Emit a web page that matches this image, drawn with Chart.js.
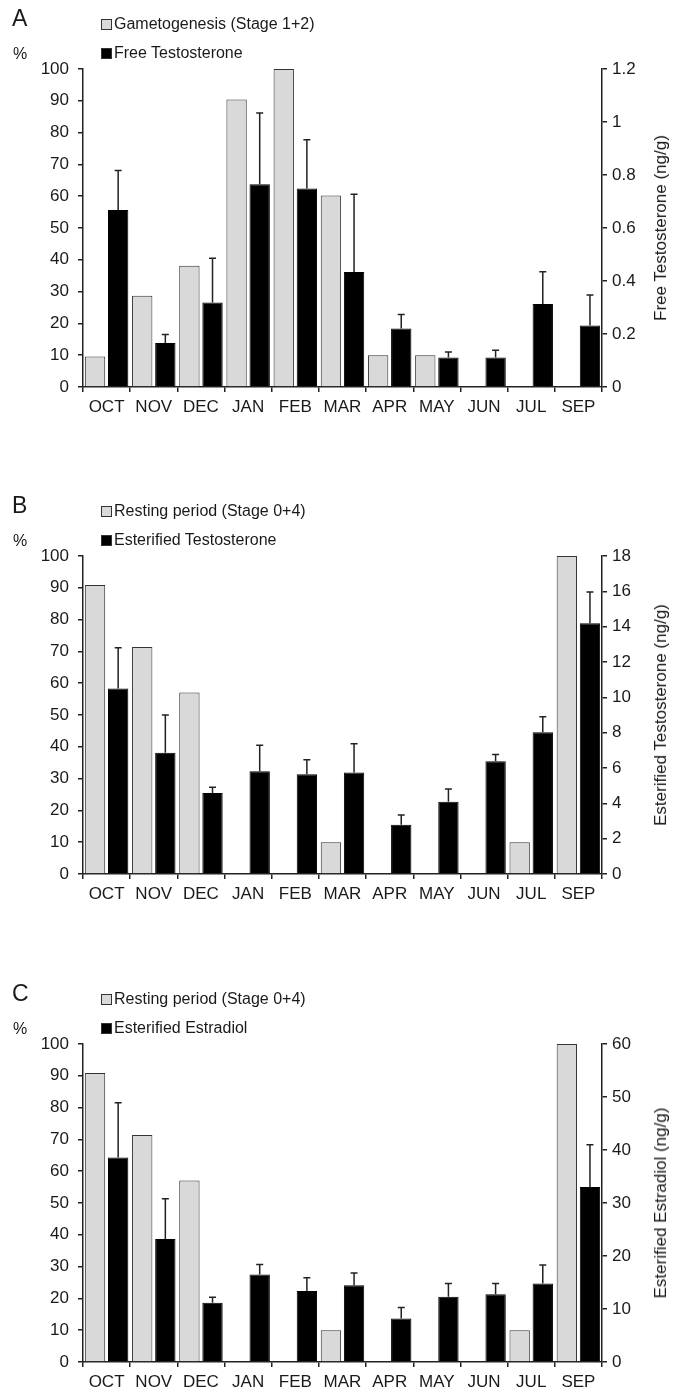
<!DOCTYPE html>
<html lang="en">
  <head>
    <meta charset="UTF-8" />
    <title>Gonad stages and steroid levels by month</title>
    <script src="https://cdn.jsdelivr.net/npm/chart.js"></script>
    <style>
      body {
        margin: 0;
        background: #fff;
        font-family: "Liberation Sans", Arial, sans-serif;
        color: #1a1a1a;
      }
      .panel {
        position: absolute;
        left: 0;
        width: 679px;
        height: 487px;
      }
      .panel canvas {
        position: absolute;
        left: 0;
        top: 0;
      }
      .letter {
        position: absolute;
        left: 12px;
        top: 5px;
        font-size: 23px;
        line-height: 26px;
      }
      .pct {
        position: absolute;
        left: 13px;
        top: 45px;
        font-size: 16px;
        line-height: 18px;
      }
      .box {
        position: absolute;
        left: 101px;
        width: 9px;
        height: 9px;
        border: 1px solid #333;
      }
      .leg {
        position: absolute;
        left: 114px;
        font-size: 16px;
        line-height: 18px;
        white-space: nowrap;
      }
      .ytitle {
        position: absolute;
        left: 661px;
        top: 228px;
        font-size: 17px;
        line-height: 20px;
        white-space: nowrap;
        transform: translate(-50%, -50%) rotate(-90deg);
      }
    </style>
  </head>
  <body>
    <div id="charts"></div>

    <script>
      const months = ["OCT", "NOV", "DEC", "JAN", "FEB", "MAR", "APR", "MAY", "JUN", "JUL", "SEP"];

      // % of individuals per stage
      const gametogenesis = [9.6, 28.7, 38.1, 90.4, 100, 60.2, 10, 10, 0, 0, 0];
      const resting = [90.9, 71.4, 57.1, 0, 0, 10, 0, 0, 0, 10, 100];

      // hormone means (ng/g) and SE
      const freeT = [0.668, 0.166, 0.319, 0.765, 0.749, 0.434, 0.221, 0.111, 0.111, 0.313, 0.232];
      const freeTSE = [0.149, 0.032, 0.167, 0.269, 0.184, 0.293, 0.053, 0.021, 0.028, 0.122, 0.115];
      const esterT = [10.5, 6.86, 4.59, 5.82, 5.65, 5.74, 2.79, 4.09, 6.38, 8.02, 14.2];
      const esterTSE = [2.3, 2.14, 0.32, 1.47, 0.82, 1.63, 0.55, 0.72, 0.39, 0.88, 1.76];
      const esterE2 = [38.6, 23.2, 11.2, 16.5, 13.4, 14.5, 8.2, 12.3, 12.8, 14.8, 33.0];
      const esterE2SE = [10.3, 7.6, 1.0, 1.9, 2.5, 2.3, 2.1, 2.5, 2.0, 3.5, 8.0];

      const panels = [
        { letter: "A", stageLabel: "Gametogenesis (Stage 1+2)", stage: gametogenesis,
          hormoneLabel: "Free Testosterone", hormone: freeT, se: freeTSE,
          rightMax: 1.2, rightStep: 0.2, rightTitle: "Free Testosterone (ng/g)" },
        { letter: "B", stageLabel: "Resting period (Stage 0+4)", stage: resting,
          hormoneLabel: "Esterified Testosterone", hormone: esterT, se: esterTSE,
          rightMax: 18, rightStep: 2, rightTitle: "Esterified Testosterone (ng/g)" },
        { letter: "C", stageLabel: "Resting period (Stage 0+4)", stage: resting,
          hormoneLabel: "Esterified Estradiol", hormone: esterE2, se: esterE2SE,
          rightMax: 60, rightStep: 10, rightTitle: "Esterified Estradiol (ng/g)" },
      ];
      const panelTops = [0, 487, 975];

      const ink = "#1a1a1a";
      const axisColor = "#222";
      const tickFont = { family: "Liberation Sans", size: 17 };

      // draws the upper half of each error bar with a cap
      const errorBars = {
        id: "errorBars",
        afterDatasetsDraw(chart) {
          const ctx = chart.ctx;
          chart.data.datasets.forEach((ds, i) => {
            if (!ds.se) return;
            const scale = chart.scales[ds.yAxisID];
            ctx.save();
            ctx.strokeStyle = axisColor;
            ctx.lineWidth = 1.5;
            chart.getDatasetMeta(i).data.forEach((bar, j) => {
              const top = scale.getPixelForValue(ds.data[j] + ds.se[j]);
              ctx.beginPath();
              ctx.moveTo(bar.x, bar.y);
              ctx.lineTo(bar.x, top);
              ctx.moveTo(bar.x - 3.5, top);
              ctx.lineTo(bar.x + 3.5, top);
              ctx.stroke();
            });
            ctx.restore();
          });
        },
      };

      function axisGrid() {
        return { drawOnChartArea: false, drawTicks: true, tickLength: 5, color: axisColor, lineWidth: 1.5 };
      }

      function addText(parent, cls, text, top) {
        const el = document.createElement("div");
        el.className = cls;
        el.textContent = text;
        if (top !== undefined) el.style.top = top + "px";
        parent.appendChild(el);
        return el;
      }

      panels.forEach((p, k) => {
        const wrap = document.createElement("div");
        wrap.className = "panel";
        wrap.style.top = panelTops[k] + "px";
        document.getElementById("charts").appendChild(wrap);

        const canvas = document.createElement("canvas");
        canvas.width = 679;
        canvas.height = 487;
        wrap.appendChild(canvas);

        addText(wrap, "letter", p.letter);
        addText(wrap, "pct", "%");
        const b1 = addText(wrap, "box", "", 19);
        b1.style.background = "#d9d9d9";
        const b2 = addText(wrap, "box", "", 48);
        b2.style.background = "#000";
        addText(wrap, "leg", p.stageLabel, 15);
        addText(wrap, "leg", p.hormoneLabel, 44);
        addText(wrap, "ytitle", p.rightTitle);

        new Chart(canvas, {
          type: "bar",
          data: {
            labels: months,
            datasets: [
              {
                label: p.stageLabel,
                data: p.stage,
                yAxisID: "y",
                backgroundColor: "#d9d9d9",
                borderColor: "#333",
                borderWidth: 1,
              },
              {
                label: p.hormoneLabel,
                data: p.hormone,
                se: p.se,
                yAxisID: "y1",
                backgroundColor: "#000",
                borderColor: "#000",
                borderWidth: 1,
              },
            ],
          },
          options: {
            responsive: false,
            animation: false,
            devicePixelRatio: 1,
            layout: { padding: { top: 69, left: 0, right: 0, bottom: 0 } },
            datasets: { bar: { categoryPercentage: 0.98, barPercentage: 0.88 } },
            plugins: { legend: { display: false }, tooltip: { enabled: false } },
            scales: {
              x: {
                grid: axisGrid(),
                border: { color: axisColor, width: 1.5 },
                ticks: { color: ink, font: tickFont, padding: 5, maxRotation: 0, autoSkip: false },
                afterFit: (s) => { s.height = 100; },
              },
              y: {
                position: "left",
                min: 0,
                max: 100,
                grid: axisGrid(),
                border: { color: axisColor, width: 1.5 },
                ticks: { stepSize: 10, color: ink, font: tickFont, padding: 9 },
                afterFit: (s) => { s.width = 83; },
              },
              y1: {
                position: "right",
                min: 0,
                max: p.rightMax,
                grid: axisGrid(),
                border: { color: axisColor, width: 1.5 },
                ticks: {
                  stepSize: p.rightStep,
                  color: ink,
                  font: tickFont,
                  padding: 5,
                  // 1 rather than 1.0
                  callback: (v) => String(Number(v.toFixed(2))),
                },
                afterFit: (s) => { s.width = 77; },
              },
            },
          },
          plugins: [errorBars],
        });
      });
    </script>
  </body>
</html>
